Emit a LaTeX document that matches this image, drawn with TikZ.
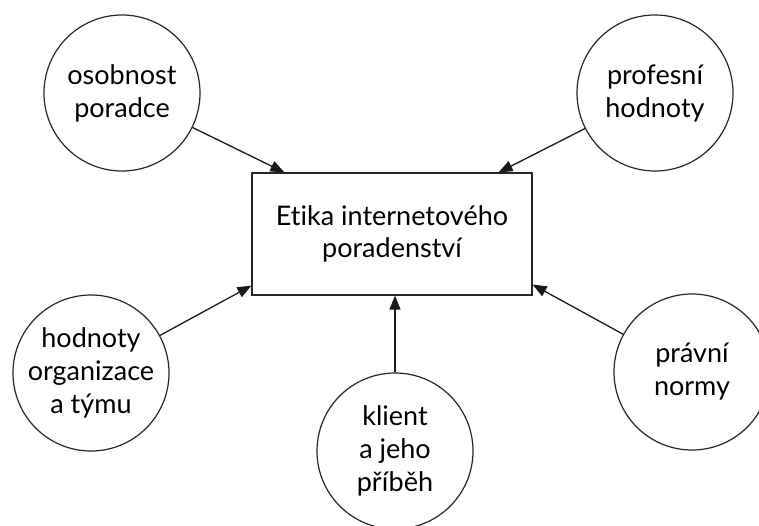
\documentclass[tikz,border=0pt]{standalone}
\usepackage{fontspec}
\setmainfont[Ligatures={NoCommon}]{Lato}
\usepackage{tikz}
\usetikzlibrary{arrows.meta,calc}
\tikzset{
  topic/.style={circle,draw=black!85,line width=1.2pt,minimum size=156pt,
                align=center,font=\fontsize{27}{33}\selectfont,inner sep=0pt},
  core/.style={rectangle,draw=black!85,line width=1.2pt,minimum width=280pt,
               minimum height=122pt,align=center,font=\fontsize{27}{32}\selectfont},
  arr/.style={-{Triangle[length=14pt,width=11pt]},draw=black!90,line width=1.3pt},
}
\begin{document}
\begin{tikzpicture}[x=1pt,y=-1pt]
  \useasboundingbox (0,0) rectangle (759,525);
  % --- uzly ---
  \node[core]  (etika)   at (392,234) {Etika internetového\\poradenství};
  \node[topic] (osob)    at (122,93)  {osobnost\\poradce};
  \node[topic] (prof)    at (655,93)  {profesní\\hodnoty};
  \node[topic] (org)     at (91,373)  {hodnoty\\organizace\\a týmu};
  \node[topic] (klient)  at (395,451) {klient\\a jeho\\příběh};
  \node[topic] (pravo)   at (692,372) {právní\\normy};
  % --- šipky ---
  \draw[arr] (osob)   -- ([xshift=33pt]etika.north west);
  \draw[arr] (prof)   -- ([xshift=-34pt]etika.north east);
  \draw[arr] (org)    -- ([yshift=10pt]etika.south west);
  \draw[arr] (klient) -- (klient |- etika.south);
  \draw[arr] (pravo)  -- ([yshift=11pt]etika.south east);
\end{tikzpicture}
\end{document}
